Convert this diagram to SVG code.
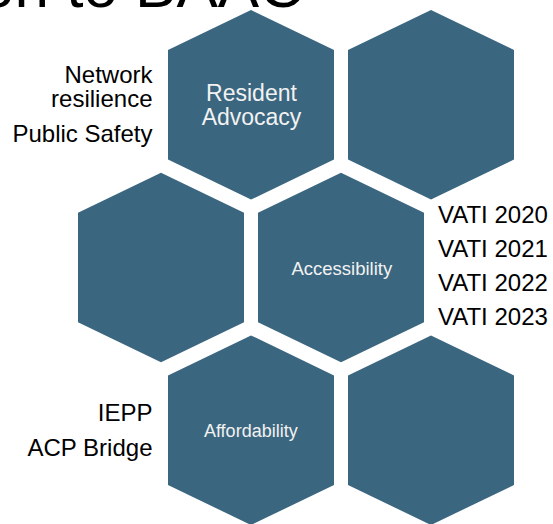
<svg xmlns="http://www.w3.org/2000/svg" xmlns:xlink="http://www.w3.org/1999/xlink" width="553" height="524" viewBox="0 0 553 524">
  <style>
    .hex { fill: #3b6680; }
    .lbl { font-family: "Liberation Sans", Arial, sans-serif; fill: #000000; font-size: 24px; }
    .in { font-family: "Liberation Sans", Arial, sans-serif; fill: #f2f2f2; text-anchor: middle; }
    .title { font-family: "Liberation Sans", Arial, sans-serif; fill: #000000; font-size: 62px; }
  </style>
  <defs>
    <path id="hexShape" d="M0,-94.8 L83,-54.8 L83,54.8 L0,94.8 L-83,54.8 L-83,-54.8 Z"/>
  </defs>
  <rect width="553" height="524" fill="#ffffff"/>
  <g id="title">
    <text class="title" x="-20" y="7">on to BAAC</text>
  </g>
  <g id="hex-resident-advocacy">
    <use xlink:href="#hexShape" class="hex" transform="translate(251,104.8)"/>
    <text class="in" x="251.5" y="100.5" font-size="23">Resident</text>
    <text class="in" x="251.5" y="124.5" font-size="23">Advocacy</text>
  </g>
  <g id="hex-top-right">
    <use xlink:href="#hexShape" class="hex" transform="translate(431,104.8)"/>
  </g>
  <g id="hex-middle-left">
    <use xlink:href="#hexShape" class="hex" transform="translate(161,267.5)"/>
  </g>
  <g id="hex-accessibility">
    <use xlink:href="#hexShape" class="hex" transform="translate(341,267.5)"/>
    <text class="in" x="341.8" y="275" font-size="18.5">Accessibility</text>
  </g>
  <g id="hex-affordability">
    <use xlink:href="#hexShape" class="hex" transform="translate(251,430.2)"/>
    <text class="in" x="250.8" y="436.7" font-size="18">Affordability</text>
  </g>
  <g id="hex-bottom-right">
    <use xlink:href="#hexShape" class="hex" transform="translate(431,430.2)"/>
  </g>
  <g id="labels-resident" text-anchor="end">
    <text class="lbl" x="152.5" y="83">Network</text>
    <text class="lbl" x="152.5" y="107">resilience</text>
    <text class="lbl" x="152.5" y="142">Public Safety</text>
  </g>
  <g id="labels-accessibility">
    <text class="lbl" x="438" y="223">VATI 2020</text>
    <text class="lbl" x="438" y="257">VATI 2021</text>
    <text class="lbl" x="438" y="291">VATI 2022</text>
    <text class="lbl" x="438" y="325">VATI 2023</text>
  </g>
  <g id="labels-affordability" text-anchor="end">
    <text class="lbl" x="152.5" y="421">IEPP</text>
    <text class="lbl" x="152.5" y="456">ACP Bridge</text>
  </g>
  <g id="connectors"/>
</svg>
